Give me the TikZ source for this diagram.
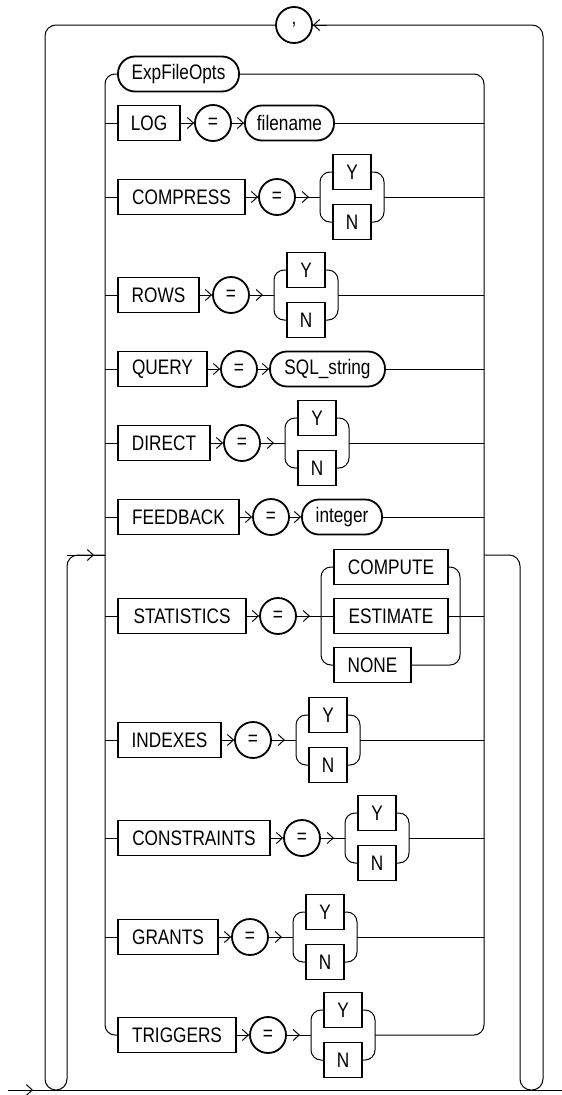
\documentclass[tikz,border=0pt]{standalone}
\usepackage{fontspec}
\setmainfont{Liberation Sans}[FakeStretch=0.82]
\usetikzlibrary{arrows.meta,decorations.markings,calc}

\tikzset{
  lbl/.style={font=\fontsize{21}{21}\selectfont},
  kw/.style={lbl, draw, line width=1.8pt, minimum height=35pt, inner sep=0pt},
  term/.style={kw, rounded corners=17pt},
  eqc/.style={lbl, draw, circle, line width=1.8pt, minimum size=36pt, inner sep=0pt},
  conn/.style={line width=1pt},
  barb/.tip={Straight Barb[length=6pt, width=11pt, line width=1pt]},
  mk/.style={postaction={decorate, decoration={markings, mark=at position #1 with {\arrow{barb}}}}},
  to/.style={conn, -barb},
  fwd/.style={conn, mk=13pt},
  rail/.style={conn, rounded corners=10pt},
}

% Y / N choice pair: #1 name, #2 x centre, #3 row y
\newcommand\ynpair[3]{%
  \node[kw, minimum width=38pt] (#1y) at (#2,#3-25) {Y};
  \node[kw, minimum width=38pt] (#1n) at (#2,#3+25) {N};
  \coordinate (#1in) at (#2-32,#3);
  \coordinate (#1out) at (#2+32,#3);
  \draw[rail] (#1y.west) -- (#2-32,#3-25) -- (#2-32,#3+25) -- (#1n.west);
  \draw[rail] (#1y.east) -- (#2+32,#3-25) -- (#2+32,#3+25) -- (#1n.east);
}

\begin{document}
\begin{tikzpicture}[x=1pt, y=-1pt]
\useasboundingbox (0,0) rectangle (562,1095);

% rails of the option block
\coordinate (railL) at (105,0);
\coordinate (railR) at (484,0);

% ---- ExpFileOpts
\node[term, minimum width=121pt] (expk) at (178.5,74) {ExpFileOpts};

% ---- LOG = filename
\node[kw, minimum width=62pt] (logk) at (149,123) {LOG};
\node[eqc] (loge) at (213,123) {=};
\node[term, minimum width=89pt] (logv) at (289.5,123) {filename};
\draw[to] (logk.east) -- (loge.west);
\draw[to] (loge.east) -- (logv.west);
\draw[conn] (logv.east) -- (logv.east -| railR);
\draw[conn] (logk.west -| railL) -- (logk.west);

% ---- COMPRESS
\node[kw, minimum width=127pt] (cmpk) at (181.5,197) {COMPRESS};
\node[eqc] (cmpe) at (277,197) {=};
\ynpair{cmp}{352}{197}
\draw[to] (cmpk.east) -- (cmpe.west);
\draw[fwd] (cmpe.east) -- (cmpin);
\draw[conn] (cmpout) -- (cmpout -| railR);
\draw[conn] (cmpk.west -| railL) -- (cmpk.west);

% ---- ROWS
\node[kw, minimum width=81pt] (rowk) at (158.5,295) {ROWS};
\node[eqc] (rowe) at (231,295) {=};
\ynpair{row}{306}{295}
\draw[to] (rowk.east) -- (rowe.west);
\draw[fwd] (rowe.east) -- (rowin);
\draw[conn] (rowout) -- (rowout -| railR);
\draw[conn] (rowk.west -| railL) -- (rowk.west);

% ---- QUERY = SQL_string
\node[kw, minimum width=89pt] (qryk) at (162.5,369) {QUERY};
\node[eqc] (qrye) at (239,369) {=};
\node[term, minimum width=115pt] (qryv) at (327.5,369) {SQL\_string};
\draw[to] (qryk.east) -- (qrye.west);
\draw[to] (qrye.east) -- (qryv.west);
\draw[conn] (qryv.east) -- (qryv.east -| railR);
\draw[conn] (qryk.west -| railL) -- (qryk.west);

% ---- DIRECT
\node[kw, minimum width=92pt] (dirk) at (164,443) {DIRECT};
\node[eqc] (dire) at (242,443) {=};
\ynpair{dir}{317}{443}
\draw[to] (dirk.east) -- (dire.west);
\draw[fwd] (dire.east) -- (dirin);
\draw[conn] (dirout) -- (dirout -| railR);
\draw[conn] (dirk.west -| railL) -- (dirk.west);

% ---- FEEDBACK = integer
\node[kw, minimum width=121pt] (fbk) at (178.5,517) {FEEDBACK};
\node[eqc] (fbe) at (271,517) {=};
\node[term, minimum width=80pt] (fbv) at (342,517) {integer};
\draw[to] (fbk.east) -- (fbe.west);
\draw[to] (fbe.east) -- (fbv.west);
\draw[conn] (fbv.east) -- (fbv.east -| railR);
\draw[conn] (fbk.west -| railL) -- (fbk.west);

% ---- STATISTICS
\node[kw, minimum width=128pt] (stk) at (182,616) {STATISTICS};
\node[eqc] (ste) at (278,616) {=};
\node[kw, minimum width=114pt] (stc) at (391,567) {COMPUTE};
\node[kw, minimum width=114pt] (sts) at (391,616) {ESTIMATE};
\node[kw, minimum width=77pt] (stn) at (372.5,665) {NONE};
\draw[rail] (stc.west) -- (321,567) -- (321,665) -- (stn.west);
\draw[rail] (stc.east) -- (460,567) -- (460,665) -- (stn.east);
\draw[to] (stk.east) -- (ste.west);
\draw[fwd] (ste.east) -- (sts.west);
\draw[conn] (sts.east) -- (sts.east -| railR);
\draw[conn] (stk.west -| railL) -- (stk.west);

% ---- INDEXES
\node[kw, minimum width=103pt] (idxk) at (169.5,740) {INDEXES};
\node[eqc] (idxe) at (253,740) {=};
\ynpair{idx}{328}{740}
\draw[to] (idxk.east) -- (idxe.west);
\draw[fwd] (idxe.east) -- (idxin);
\draw[conn] (idxout) -- (idxout -| railR);
\draw[conn] (idxk.west -| railL) -- (idxk.west);

% ---- CONSTRAINTS
\node[kw, minimum width=152pt] (conk) at (194,838) {CONSTRAINTS};
\node[eqc] (cone) at (302,838) {=};
\ynpair{con}{377}{838}
\draw[to] (conk.east) -- (cone.west);
\draw[fwd] (cone.east) -- (conin);
\draw[conn] (conout) -- (conout -| railR);
\draw[conn] (conk.west -| railL) -- (conk.west);

% ---- GRANTS
\node[kw, minimum width=100pt] (grk) at (168,937) {GRANTS};
\node[eqc] (gre) at (250,937) {=};
\ynpair{gr}{325}{937}
\draw[to] (grk.east) -- (gre.west);
\draw[fwd] (gre.east) -- (grin);
\draw[conn] (grout) -- (grout -| railR);
\draw[conn] (grk.west -| railL) -- (grk.west);

% ---- TRIGGERS
\node[kw, minimum width=118pt] (trgk) at (177,1035) {TRIGGERS};
\node[eqc] (trge) at (268,1035) {=};
\ynpair{trg}{343}{1035}
\draw[to] (trgk.east) -- (trge.west);
\draw[fwd] (trge.east) -- (trgin);

% rails joining first and last options
\draw[rail] (expk.west) -- (expk.west -| railL) -- (trgk.west -| railL) -- (trgk.west);
\draw[rail] (expk.east) -- (expk.east -| railR) -- (trgout -| railR) -- (trgout);

% ---- main line and the two loops
\coordinate (mainL) at (8,1090);
\coordinate (mainR) at (562,1090);
\draw[conn, mk=25pt] (mainL) -- (mainR);

\coordinate (inL) at (67,555);
\coordinate (inR) at (105,555);
\coordinate (outL) at (484,555);
\coordinate (outR) at (520,555);
\draw[rail, rounded corners=11pt] (inR) -- (inL) -- (67,1090) -- (45,1090) -- (45,25) -- (276,25);
\draw[conn, mk=27pt] (inL) -- (inR);
\draw[rail, rounded corners=11pt] (outL) -- (outR) -- (520,1090) -- (543,1090) -- (543,25) -- (312,25);

% ---- separator
\node[eqc] (comma) at (294,25) {,};
\draw[to] ($(comma.east)+(14,0)$) -- (comma.east);
\end{tikzpicture}
\end{document}
